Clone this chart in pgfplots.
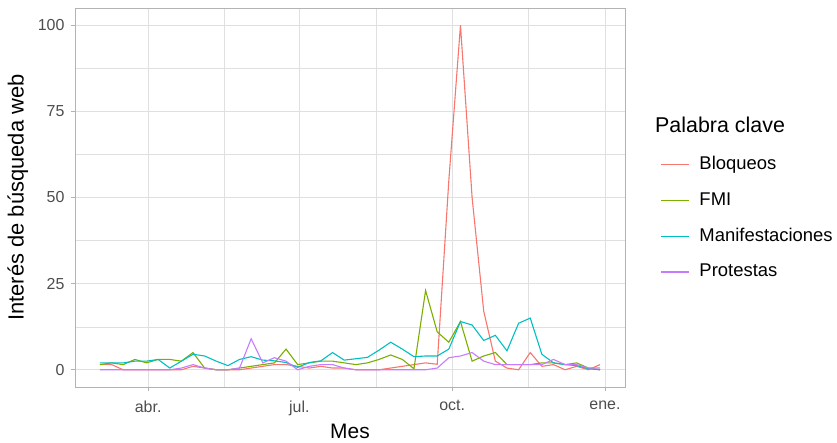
\documentclass[border=0pt]{standalone}
\usepackage{pgfplots}
\usepackage{pgfplotstable}
\pgfplotsset{compat=1.18}
\usepackage{fontspec}
\setmainfont{Liberation Sans}

\definecolor{cBlo}{HTML}{F8766D}
\definecolor{cFmi}{HTML}{7CAE00}
\definecolor{cMan}{HTML}{00BFC4}
\definecolor{cPro}{HTML}{C77CFF}
\definecolor{gridc}{HTML}{E0E0E0}
\definecolor{bordc}{HTML}{B3B3B3}
\definecolor{txtc}{HTML}{4D4D4D}

% semanas de 2019, x = dia del anio (1 ene = 0)
\pgfplotstableread{
day blo fmi man pro
61  1.5 1.5 2   0
68  1.5 2   2   0
75  0   1.5 2   0
82  0   3   2.5 0
89  0   2   2.5 0
96  0   3   3   0
103 0   3   0.5 0
110 0   2.5 2.5 0.5
117 1   5   4.5 1.5
124 0.5 0.5 4   0.5
131 0   0   2.5 0
138 0   0   1.2 0
145 0   0.5 3   0.5
152 0.5 1   3.8 9
159 1   1.5 2.8 2
166 1.5 2   2.6 3.5
173 1.5 6   2.1 2.5
180 1   1.5 0.7 0
187 0.5 2   2.1 1
194 1   2.5 2.6 1.5
201 0.5 2.5 5   1.5
208 0.5 2   2.8 0.5
215 0   1.5 3.2 0
222 0   2   3.6 0
229 0   3   5.7 0
236 0.5 4.3 8   0
243 1   3   6   0
250 1.5 0.3 3.8 0
257 2   23  4   0
264 1.6 11  4   0.5
271 55  8   6   3.5
278 100 14  14  4
285 50  2.5 13  5
292 17  4   8.5 2.5
299 2.5 5   10  1.5
306 0.5 1.5 5.5 1.5
313 0   1.5 13.5 1.5
320 5   1.5 15  1.5
327 1   2   4.5 1.5
334 1.5 2   2   3
341 0   1.5 1.5 1.5
348 1   2   1.2 1.5
355 0   0.5 0.3 0.5
362 1.5 0   0   0.5
}\datos

\begin{document}
\begin{tikzpicture}
\path[use as bounding box] (-75bp,-56bp) rectangle (762bp,387bp);
\begin{axis}[
    scale only axis,
    width=550bp, height=379bp,
    xmin=45.95, xmax=377.05,
    ymin=-5, ymax=105,
    xtick={90,181,273,365},
    xticklabels={abr.,jul.,oct.,ene.},
    minor xtick={135.5,227,319},
    ytick={0,25,50,75,100},
    minor ytick={12.5,37.5,62.5,87.5},
    grid=both,
    major grid style={gridc, line width=0.6bp},
    minor grid style={gridc, line width=0.35bp},
    axis line style={bordc, line width=0.8bp},
    tick align=outside,
    major tick length=4bp,
    minor tick length=0pt,
    tick style={bordc, line width=0.6bp},
    xtick pos=bottom, ytick pos=left,
    /pgf/number format/assume math mode=true,
    ticklabel style={font=\fontsize{16}{18}\selectfont, text=txtc},
    xticklabel style={yshift=-6bp},
    yticklabel style={xshift=-3bp},
    xlabel={Mes},
    ylabel={Interés de búsqueda web},
    xlabel style={font=\fontsize{21}{24}\selectfont,
        at={(axis description cs:0.5,-0.116)}, anchor=center},
    ylabel style={font=\fontsize{22}{25}\selectfont,
        at={(axis description cs:-0.104,0.5)}, anchor=center},
    legend cell align=left,
    legend image code/.code={\draw[#1, line width=1.1bp] (0bp,0bp) -- (28bp,0bp);},
    legend style={at={(axis description cs:1.064,0.6095)}, anchor=north west,
        draw=none, fill=none, inner sep=0pt, row sep=18.2bp,
        font=\fontsize{18.5}{21}\selectfont,
        nodes={inner ysep=0pt, text height=13.5bp, text depth=4bp},
        /tikz/every odd column/.append style={column sep=8bp}},
    every axis plot/.append style={line width=1.1bp},
    clip=false
]
\addplot[cBlo] table[x=day, y=blo] {\datos};
\addlegendentry{Bloqueos}
\addplot[cFmi] table[x=day, y=fmi] {\datos};
\addlegendentry{FMI}
\addplot[cMan] table[x=day, y=man] {\datos};
\addlegendentry{Manifestaciones}
\addplot[cPro] table[x=day, y=pro] {\datos};
\addlegendentry{Protestas}
\node[anchor=west, font=\fontsize{21.5}{24}\selectfont, inner sep=0pt]
    at (axis description cs:1.0545,0.691) {Palabra clave};
\end{axis}
\end{tikzpicture}
\end{document}
